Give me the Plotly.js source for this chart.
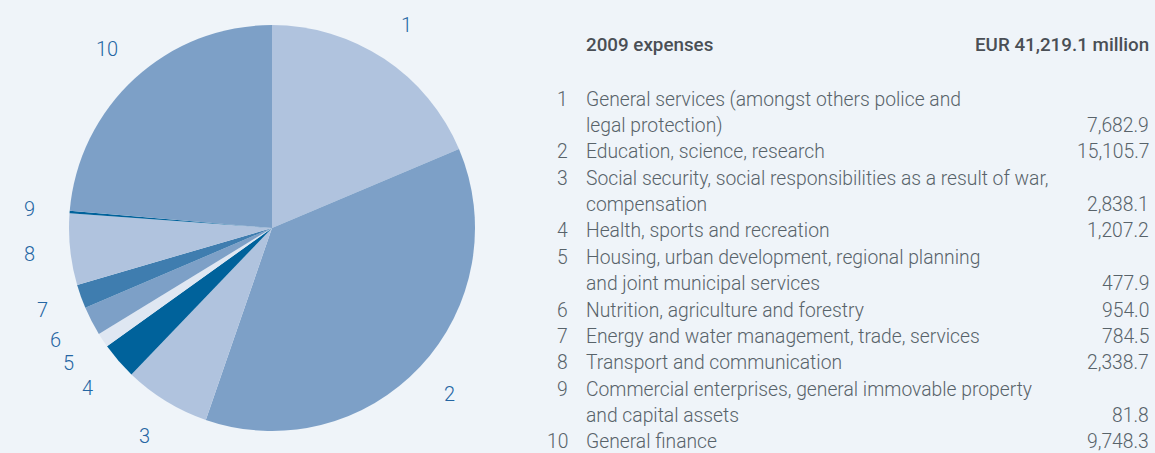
<!DOCTYPE html>
<html><head><meta charset="utf-8">
<script src="https://cdn.plot.ly/plotly-3.0.1.min.js"></script>
<style>html,body{margin:0;padding:0;background:#eff4f9;}#chart{width:1155px;height:453px;}</style>
</head><body><div id="chart"></div>
<script>
const ids = ["1","2","3","4","5","6","7","8","9","10"];
const descriptions = [
  ["General services (amongst others police and","legal protection)"],
  ["Education, science, research"],
  ["Social security, social responsibilities as a result of war,","compensation"],
  ["Health, sports and recreation"],
  ["Housing, urban development, regional planning","and joint municipal services"],
  ["Nutrition, agriculture and forestry"],
  ["Energy and water management, trade, services"],
  ["Transport and communication"],
  ["Commercial enterprises, general immovable property","and capital assets"],
  ["General finance"]
];
const values = [7682.9, 15105.7, 2838.1, 1207.2, 477.9, 954.0, 784.5, 2338.7, 81.8, 9748.3];
const valueLabels = ["7,682.9","15,105.7","2,838.1","1,207.2","477.9","954.0","784.5","2,338.7","81.8","9,748.3"];
const headerLeft = "2009 expenses";
const headerRight = "EUR 41,219.1 million";
const colors = ["#b0c3de","#7da0c7","#b0c3de","#00629b","#dfe7f2","#7da0c7","#3f7daf","#b0c3de","#00629b","#7da0c7"];

const W = 1155, H = 453;
const cx = 272, cy = 228, R = 203;
const px = x => x / W;
const py = y => 1 - y / H;

const annotations = [];
// pie labels at mid-angle of each slice
const total = values.reduce((a,b)=>a+b,0);
let cum = 0;
values.forEach((v,i)=>{
  const mid = (cum + v/2) / total * 2*Math.PI;
  cum += v;
  const r = R * 1.2;
  const x = cx + r*Math.sin(mid), y = cy - r*Math.cos(mid);
  annotations.push({xref:'paper',yref:'paper',x:px(x),y:py(y),xanchor:'center',yanchor:'middle',
    text:ids[i],showarrow:false,font:{family:'Roboto, sans-serif',size:20,color:'#2566a3',weight:300}});
});

// table
const tf = {family:'Roboto, sans-serif',size:19.3,color:'#58636a',weight:300};
const hf = {family:'Roboto, sans-serif',size:18.8,color:'#4a4f55',weight:500};
annotations.push({xref:'paper',yref:'paper',x:px(584),y:py(45),xanchor:'left',yanchor:'middle',text:headerLeft,showarrow:false,font:hf});
annotations.push({xref:'paper',yref:'paper',x:px(1151),y:py(45),xanchor:'right',yanchor:'middle',text:headerRight,showarrow:false,font:hf});
let line = 0;
const y0 = 99, lh = 26.38;
descriptions.forEach((d,i)=>{
  const yStart = y0 + line*lh;
  annotations.push({xref:'paper',yref:'paper',x:px(570),y:py(yStart),xanchor:'right',yanchor:'middle',text:ids[i],showarrow:false,font:tf});
  d.forEach((t,k)=>{
    annotations.push({xref:'paper',yref:'paper',x:px(584),y:py(y0+(line+k)*lh),xanchor:'left',yanchor:'middle',text:t,showarrow:false,font:tf});
  });
  line += d.length;
  annotations.push({xref:'paper',yref:'paper',x:px(1151),y:py(y0+(line-1)*lh),xanchor:'right',yanchor:'middle',text:valueLabels[i],showarrow:false,font:tf});
});

const trace = {
  type:'pie', values: values, labels: ids, sort:false, direction:'clockwise', rotation:0,
  marker:{colors:colors, line:{width:0}}, textinfo:'none', hoverinfo:'label+value',
  domain:{x:[px(cx-R),px(cx+R)], y:[py(cy+R),py(cy-R)]}, showlegend:false
};
Plotly.newPlot('chart',[trace],{
  width:W,height:H,margin:{l:0,r:0,t:0,b:0},paper_bgcolor:'#eff4f9',plot_bgcolor:'#eff4f9',
  annotations:annotations, showlegend:false
},{staticPlot:true});
</script></body></html>
